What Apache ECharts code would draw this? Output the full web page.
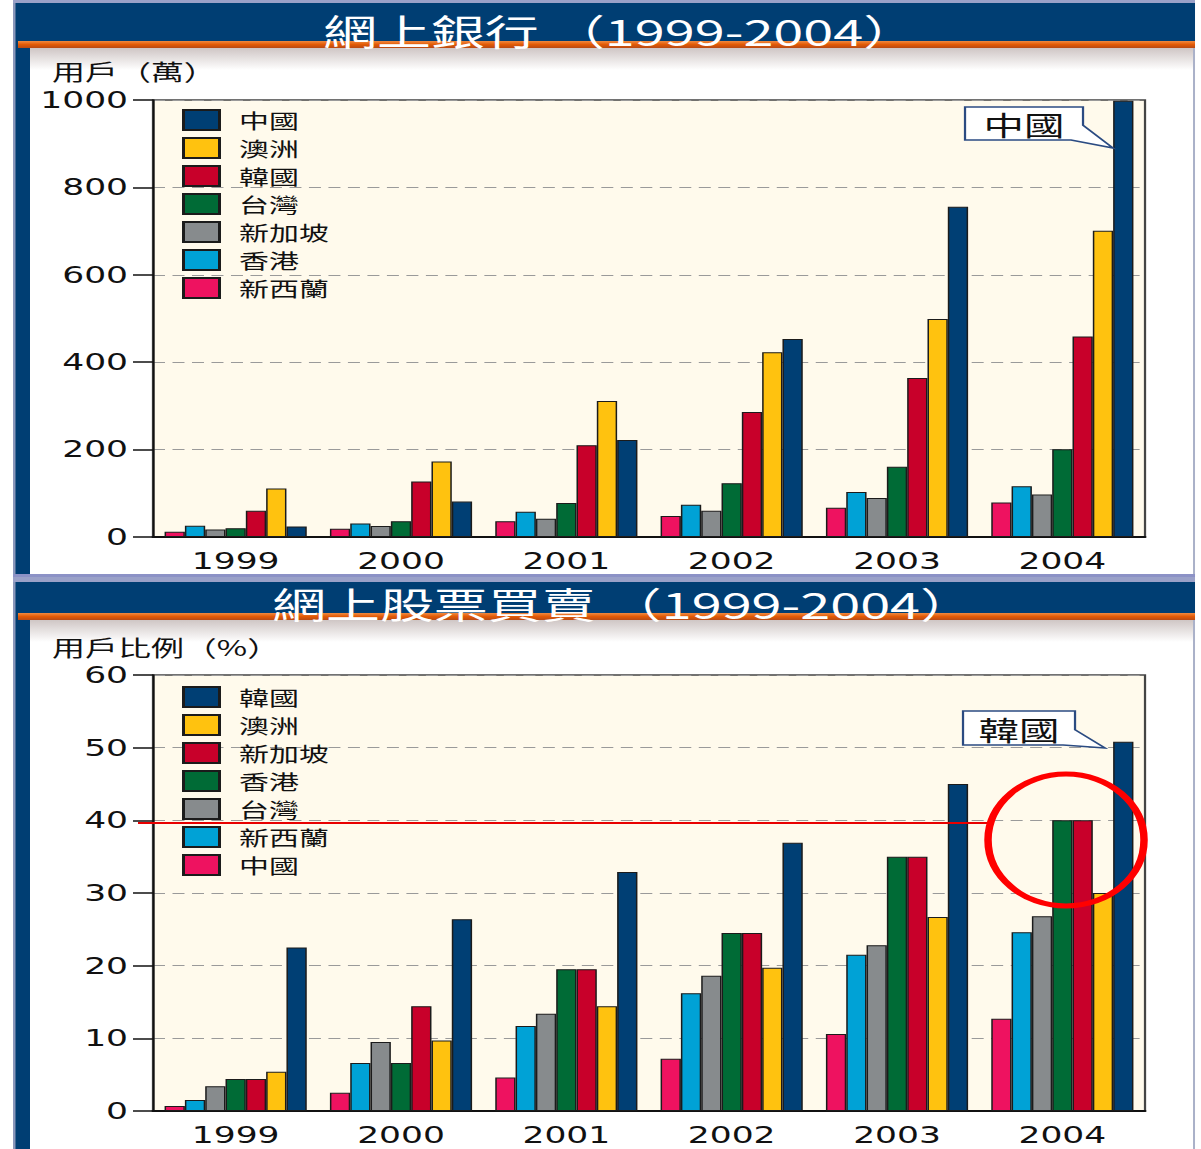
<!DOCTYPE html>
<html>
<head>
<meta charset="utf-8">
<script src="https://cdn.jsdelivr.net/npm/echarts/dist/echarts.min.js"></script>
<style>
html, body { margin: 0; padding: 0; background: #fff; overflow: hidden; }
/* the original picture is stretched sideways, so the charts are laid out narrow and widened */
#wrap { width: 801px; height: 1149px; transform: scaleX(1.4994); transform-origin: 0 0; }
#top { width: 801px; height: 577px; }
#bot { width: 801px; height: 572px; }
</style>
</head>
<body>
<div id="wrap">
	<div id="top"></div>
	<div id="bot"></div>
</div>
<script>
'use strict'
const years = ['1999', '2000', '2001', '2002', '2003', '2004'];

// 網上銀行 用戶(萬)
const bankLegend = ['中國', '澳洲', '韓國', '台灣', '新加坡', '香港', '新西蘭'];
const bankChina = [24, 81, 222, 453, 756, 998];
const bankAustralia = [111, 173, 311, 423, 499, 701];
const bankKorea = [60, 127, 210, 286, 364, 459];
const bankTaiwan = [20, 36, 78, 123, 161, 201];
const bankSingapore = [17, 25, 42, 60, 89, 97];
const bankHongKong = [26, 31, 58, 74, 103, 116];
const bankNZ = [12, 19, 36, 48, 67, 79];

// 網上股票買賣 用戶比例(%)
const stockLegend = ['韓國', '澳洲', '新加坡', '香港', '台灣', '新西蘭', '中國'];
const stockKorea = [22.5, 26.4, 32.9, 36.9, 45, 50.8];
const stockAustralia = [5.4, 9.7, 14.4, 19.7, 26.7, 30];
const stockSingapore = [4.4, 14.4, 19.5, 24.5, 35, 40];
const stockHongKong = [4.4, 6.6, 19.5, 24.5, 35, 40];
const stockTaiwan = [3.4, 9.5, 13.4, 18.6, 22.8, 26.8];
const stockNZ = [1.5, 6.6, 11.7, 16.2, 21.5, 24.6];
const stockChina = [0.7, 2.5, 4.6, 7.2, 10.6, 12.7];

// colour by rank (legend order), same in both charts
const rankColors = ['#003f74', '#ffc20f', '#c8002a', '#006b36', '#878b8d', '#00a2d6', '#ee1260'];

const K = 801 / 1201;
const X = v => v * K;
const NAVY = '#003e73';
const CJK = '"Noto Sans CJK TC", "Noto Sans CJK SC", sans-serif';
const NUM = '"DejaVu Sans", sans-serif';

function frame(top, bannerTop, bannerH, h) {
	let orangeY = bannerTop + bannerH;
	return [
		{type: 'rect', z: 0, shape: {x: X(13), y: top, width: X(1182), height: bannerTop - top}, style: {fill: '#9aa1c8'}},
		{type: 'rect', z: 0, shape: {x: X(13), y: bannerTop, width: X(1182), height: bannerH}, style: {fill: NAVY}},
		{type: 'rect', z: 0, shape: {x: X(13), y: bannerTop, width: X(17), height: h - bannerTop}, style: {fill: NAVY}},
		{type: 'rect', z: 0, shape: {x: X(13), y: bannerTop, width: X(2.5), height: h - bannerTop}, style: {fill: '#8a97bb'}},
		{type: 'rect', z: 0, shape: {x: X(18), y: orangeY, width: X(1177), height: 7}, style: {fill: {
			type: 'linear', x: 0, y: 0, x2: 0, y2: 1,
			colorStops: [{offset: 0, color: '#f08a40'}, {offset: 0.5, color: '#e25a06'}, {offset: 1, color: '#b84a14'}]
		}}},
		{type: 'rect', z: 0, shape: {x: X(30), y: orangeY + 7, width: X(1163), height: 22}, style: {fill: {
			type: 'linear', x: 0, y: 0, x2: 0, y2: 1,
			colorStops: [{offset: 0, color: '#cfc6c5'}, {offset: 1, color: '#ffffff'}]
		}}},
		{type: 'rect', z: 0, shape: {x: X(1193), y: orangeY + 7, width: X(2), height: h - orangeY - 7}, style: {fill: '#aab1c9'}}
	];
}

function bubble(x1, y1, x2, y2, tipX, tipY, text) {
	return [
		{type: 'polygon', z: 50, shape: {points: [
			[X(x1), y1], [X(x2), y1], [X(x2), y1 + (y2 - y1) * 0.55], [X(tipX), tipY], [X(x2 - 12), y2], [X(x1), y2]
		]}, style: {fill: '#fff', stroke: '#2b4b82', lineWidth: 1.5}},
		{type: 'text', z: 51, style: {text: text, x: X((x1 + x2) / 2), y: (y1 + y2) / 2 + 1,
			fontSize: 27, fontFamily: CJK, fill: '#111', align: 'center', verticalAlign: 'middle'}}
	];
}

function buildOption(cfg) {
	return {
		animation: false,
		title: [{
			text: cfg.title, left: X(cfg.titleLeft), top: cfg.titleTop, padding: 0,
			textStyle: {color: '#fff', fontSize: 36, fontWeight: 'normal', fontFamily: CJK}
		}, {
			text: cfg.unit, left: X(52), top: cfg.unitTop, padding: 0,
			textStyle: {color: '#111', fontSize: 22, fontWeight: 'normal', fontFamily: CJK}
		}],
		legend: {
			orient: 'vertical', left: X(182), top: cfg.legendTop, padding: 0, icon: 'rect',
			itemWidth: X(36), itemHeight: 20, itemGap: 6, selectedMode: false,
			data: cfg.legend,
			textStyle: {fontFamily: CJK, fontSize: 20, lineHeight: 20, color: '#111', padding: [0, 0, 0, 8]}
		},
		grid: {
			left: X(153), right: 801 - X(1145), top: cfg.gridTop, height: cfg.gridH,
			show: true, backgroundColor: '#fffaec', borderColor: '#444', borderWidth: 1.5,
			outerBoundsMode: 'none'
		},
		xAxis: {
			type: 'category', data: years,
			axisTick: {show: false},
			axisLine: {lineStyle: {color: '#111', width: 2}},
			axisLabel: {color: '#111', fontFamily: NUM, fontSize: 23, margin: 13}
		},
		yAxis: {
			type: 'value', min: 0, max: cfg.max, interval: cfg.step,
			axisLine: {show: true, lineStyle: {color: '#111', width: 1.3}},
			axisTick: {show: true, length: X(20), lineStyle: {color: '#111', width: 1.5}},
			axisLabel: {color: '#111', fontFamily: NUM, fontSize: 23, margin: X(25), formatter: v => String(v)},
			splitLine: {lineStyle: {color: '#9a9a9a', type: [8, 5], width: 1}}
		},
		series: cfg.series.map(([name, data]) => ({
			name: name, type: 'bar', data: data,
			barGap: '0%', barCategoryGap: '14%',
			itemStyle: {color: rankColors[cfg.legend.indexOf(name)], borderColor: '#1b1b1b', borderWidth: 1}
		})),
		graphic: cfg.graphic
	};
}

let topChart = echarts.init(document.getElementById('top'), null, {renderer: 'svg'});
topChart.setOption(buildOption({
	title: '網上銀行 （1999-2004）', titleLeft: 323, titleTop: 12,
	unit: '用戶（萬）', unitTop: 59,
	legend: bankLegend, legendTop: 109,
	gridTop: 100, gridH: 437, max: 1000, step: 200,
	series: [['新西蘭', bankNZ], ['香港', bankHongKong], ['新加坡', bankSingapore], ['台灣', bankTaiwan],
		['韓國', bankKorea], ['澳洲', bankAustralia], ['中國', bankChina]],
	graphic: frame(0, 3, 38, 577).concat(
		[{type: 'rect', z: 0, shape: {x: X(13), y: 574, width: X(1182), height: 3}, style: {fill: '#8c92c6'}}],
		bubble(965, 107, 1083, 140, 1113, 148, '中國')
	)
}));

let botChart = echarts.init(document.getElementById('bot'), null, {renderer: 'svg'});
botChart.setOption(buildOption({
	title: '網上股票買賣 （1999-2004）', titleLeft: 272, titleTop: 8,
	unit: '用戶比例（%）', unitTop: 58,
	legend: stockLegend, legendTop: 109,
	gridTop: 98, gridH: 436, max: 60, step: 10,
	series: [['中國', stockChina], ['新西蘭', stockNZ], ['台灣', stockTaiwan], ['香港', stockHongKong],
		['新加坡', stockSingapore], ['澳洲', stockAustralia], ['韓國', stockKorea]],
	graphic: frame(0, 5, 31, 572).concat(
		bubble(963, 134, 1075, 168, 1105, 171, '韓國'),
		[
			{type: 'line', z: 60, shape: {x1: X(138), y1: 246, x2: X(990), y2: 246}, style: {stroke: '#e80000', lineWidth: 2}},
			{type: 'ellipse', z: 60, shape: {cx: X(1066), cy: 263, rx: X(78), ry: 66}, style: {fill: 'none', stroke: '#ff0000', lineWidth: 5}}
		]
	)
}));
</script>
</body>
</html>
